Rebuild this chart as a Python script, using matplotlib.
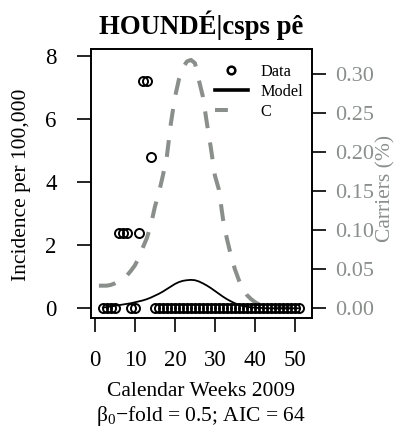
import matplotlib
matplotlib.use("Agg")
import matplotlib.pyplot as plt
from matplotlib.lines import Line2D

plt.rcParams['font.family'] = ['Liberation Serif', 'DejaVu Serif']
plt.rcParams['mathtext.fontset'] = 'custom'
plt.rcParams['mathtext.rm'] = 'Liberation Serif'
plt.rcParams['mathtext.it'] = 'Liberation Serif:italic'

# observed incidence per week
obs_weeks = list(range(2, 52))
obs_incidence = [0, 0, 0, 0, 2.4, 2.4, 2.4, 0, 0, 2.4, 7.2, 7.2, 4.8] + [0] * 37

# model fit
model_weeks = list(range(2, 52))
model_incidence = [0.02, 0.04, 0.06, 0.08, 0.10, 0.12, 0.14, 0.16, 0.19, 0.22,
                   0.25, 0.29, 0.34, 0.40, 0.46, 0.53, 0.61, 0.69, 0.77, 0.83,
                   0.87, 0.89, 0.90, 0.89, 0.85, 0.79, 0.72, 0.64, 0.55, 0.46,
                   0.37, 0.29, 0.22, 0.16, 0.11, 0.07, 0.05, 0.03, 0.02, 0.01,
                   0.01, 0, 0, 0, 0, 0, 0, 0, 0, 0]

# carriers (right axis)
c_weeks = list(range(1, 53))
c_carriers = [0.029, 0.029, 0.029, 0.030, 0.032, 0.035, 0.038, 0.042, 0.048, 0.055,
              0.065, 0.078, 0.090, 0.107, 0.130, 0.148, 0.170, 0.195, 0.237, 0.270,
              0.293, 0.308, 0.316, 0.318, 0.314, 0.292, 0.271, 0.237, 0.205, 0.170,
              0.152, 0.115, 0.089, 0.068, 0.050, 0.036, 0.025, 0.017, 0.012, 0.008,
              0.005, 0.003, 0.002, 0.001, 0.001, 0.001, 0.001, 0.001, 0.001, 0.001,
              0.001, 0.001]

x_ticks = [0, 10, 20, 30, 40, 50]
left_ticks = [0, 2, 4, 6, 8]
right_ticks = [0.00, 0.05, 0.10, 0.15, 0.20, 0.25, 0.30]

GRAY = "#8a8f8c"

fig = plt.figure(figsize=(3.95, 4.32), dpi=100)
ax = fig.add_axes([91.3 / 395, 1 - 318 / 432, 220.4 / 395, 269 / 432])
ax2 = ax.twinx()

ax2.plot(c_weeks, c_carriers, color=GRAY, lw=2.9, linestyle=(0, (4.2, 3.6)))
ax.plot(model_weeks, model_incidence, color="black", lw=1.3)
ax.plot(obs_weeks, obs_incidence, "o", mfc="none", mec="black", ms=6.5, mew=1.4)
ax.set_zorder(ax2.get_zorder() + 1)
ax.patch.set_visible(False)

ax.set_xlim(-0.9, 54.2)
ax.set_ylim(-0.307, 8.21)
ax2.set_ylim(-0.0124, 0.332)

ax.set_xticks(x_ticks)
ax.set_yticks(left_ticks)
ax2.set_yticks(right_ticks)
ax2.set_yticklabels([f"{v:.2f}" for v in right_ticks])

for s in ax.spines.values():
    s.set_linewidth(1.4)
for s in ax2.spines.values():
    s.set_visible(False)

ax.tick_params(axis="x", length=10, width=1.2, pad=13, labelsize=16.5)
ax.tick_params(axis="y", length=10, width=1.2, pad=15, labelsize=16.5)
ax2.tick_params(axis="y", length=10, width=1.2, pad=7, labelsize=16,
                labelcolor=GRAY)

ax.set_title("HOUNDÉ|csps pê", fontsize=19.3, fontweight="bold", pad=11)

fig.text(21.7 / 395, 1 - 185 / 432, "Incidence per 100,000", rotation=90,
         ha="center", va="center", fontsize=15.5)
fig.text(386 / 395, 1 - 188 / 432, "Carriers (%)", rotation=90,
         ha="center", va="center", fontsize=15.5, color=GRAY)
fig.text(201 / 395, 1 - 396.5 / 432, "Calendar Weeks 2009",
         ha="center", va="baseline", fontsize=15.5)
fig.text(201 / 395, 1 - 421 / 432, "β$_0$−fold = 0.5; AIC = 64",
         ha="center", va="baseline", fontsize=15.5)

handles = [
    Line2D([], [], marker="o", ls="none", mfc="none", mec="black", ms=5.5, mew=1.8),
    Line2D([], [], color="black", lw=2.6),
    Line2D([], [], color=GRAY, lw=2.9, linestyle=(0, (3.2, 10))),
]
ax.legend(handles, ["Data", "Model", "C"], loc="upper left",
          bbox_to_anchor=((215 - 91.3) / 220.4, (318 - 64) / 269),
          frameon=False, fontsize=11.7, borderpad=0, borderaxespad=0,
          handlelength=2.0, handletextpad=0.8, labelspacing=0.25)

plt.savefig("out.png", dpi=100)
plt.close()
